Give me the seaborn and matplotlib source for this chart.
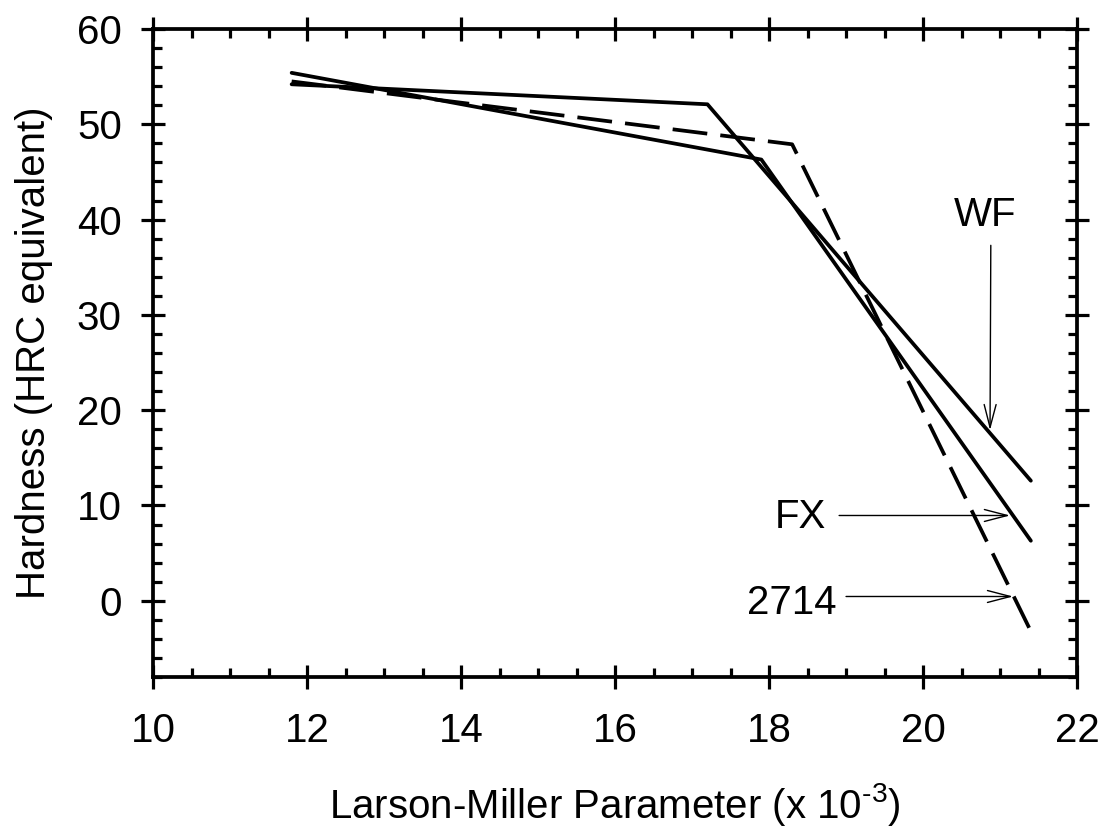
"""
Hardness vs Larson-Miller parameter for three steels (WF, FX, 2714).
"""
import matplotlib
matplotlib.use("Agg")
import matplotlib.pyplot as plt
from matplotlib.ticker import MultipleLocator
import seaborn as sns

sns.set_theme(style="ticks")
plt.rcParams["font.family"] = ["Liberation Sans", "DejaVu Sans"]
plt.rcParams["mathtext.fontset"] = "custom"
plt.rcParams["mathtext.rm"] = "Liberation Sans"
plt.rcParams["mathtext.it"] = "Liberation Sans"

# ---------------------------------------------------------------
# Data (LMP x 10^-3, HRC)
# ---------------------------------------------------------------
wf_lmp = [11.8, 17.2, 21.4]
wf_hrc = [54.2, 52.1, 12.6]

fx_lmp = [11.8, 17.9, 21.4]
fx_hrc = [55.4, 46.3, 6.3]

a2714_lmp = [11.8, 18.3, 21.4]
a2714_hrc = [54.5, 47.9, -3.2]

# label text, text position, arrow tail, arrow tip
labels = ["WF", "FX", "2714"]
label_xy = [(20.80, 40.5), (18.41, 8.8), (18.29, -0.2)]
tail_xy = [(20.88, 37.3), (18.91, 8.95), (19.0, 0.45)]
tip_xy = [(20.87, 17.9), (21.13, 8.95), (21.17, 0.45)]

FS = 29
LW = 2.7
fig = plt.figure(figsize=(11.05, 8.31), dpi=100)
ax = fig.add_axes([0.1385, 0.1853, 0.8362, 0.7798])

sns.lineplot(x=wf_lmp, y=wf_hrc, color="black", linewidth=LW, estimator=None, ax=ax)
sns.lineplot(x=fx_lmp, y=fx_hrc, color="black", linewidth=LW, estimator=None, ax=ax)
sns.lineplot(x=a2714_lmp, y=a2714_hrc, color="black", linewidth=LW, estimator=None, ax=ax)
ax.lines[-1].set_dashes((9.3, 3.5))

for txt, xy, tail, tip in zip(labels, label_xy, tail_xy, tip_xy):
    ax.text(xy[0], xy[1], txt, fontsize=FS, ha="center", va="center", color="black")
    ax.annotate("", xy=tip, xytext=tail,
                arrowprops=dict(arrowstyle="->,head_length=1.65,head_width=0.43",
                                color="black", lw=1.0, mutation_scale=10,
                                shrinkA=0, shrinkB=0))

ax.set_xlim(10, 22)
ax.set_ylim(-8, 60)
ax.xaxis.set_major_locator(MultipleLocator(2))
ax.xaxis.set_minor_locator(MultipleLocator(0.5))
ax.set_yticks([0, 10, 20, 30, 40, 50, 60])
ax.yaxis.set_minor_locator(MultipleLocator(2))

for s in ax.spines.values():
    s.set_linewidth(2.7)
    s.set_color("black")
ax.tick_params(which="major", direction="inout", length=17, width=2.3,
               top=True, right=True, labelsize=FS, colors="black")
ax.tick_params(axis="y", which="major", pad=14)
ax.tick_params(axis="x", which="major", pad=17)
ax.tick_params(which="minor", direction="in", length=6.5, width=2.3,
               top=True, right=True, colors="black")

ax.set_xlabel(r"Larson-Miller Parameter (x 10$^{\text{-3}}$)", fontsize=FS, color="black")
ax.set_ylabel("Hardness (HRC equivalent)", fontsize=FS, color="black")
ax.xaxis.set_label_coords(0.5, -0.161)
ax.yaxis.set_label_coords(-0.108, 0.5)

plt.savefig("out.png", dpi=100)
plt.close()
